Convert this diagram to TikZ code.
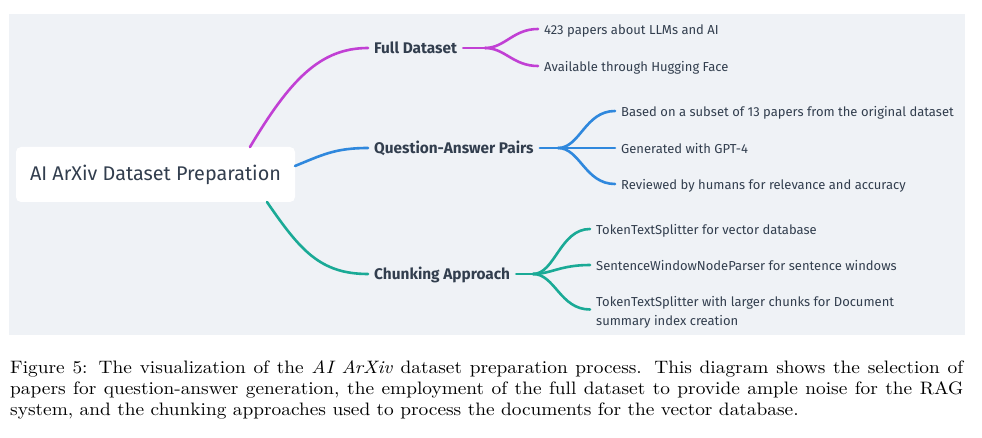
\documentclass[tikz,border=0pt]{standalone}
\usepackage{fontspec}
\newfontfamily\diafont{Fira Sans}
\newfontfamily\capfont{lmroman10-regular.otf}[ItalicFont=lmroman10-italic.otf, FakeStretch=1.075]
\usetikzlibrary{calc}
\definecolor{bgc}{RGB}{239,242,246}
\definecolor{txt}{RGB}{50,62,78}
\definecolor{cmag}{RGB}{193,64,212}
\definecolor{cblue}{RGB}{47,136,221}
\definecolor{cteal}{RGB}{26,170,150}
\begin{document}
\begin{tikzpicture}[x=1pt,y=-1pt,
  conn/.style={line width=2.6pt, line cap=round},
  rootbox/.style={fill=white, rounded corners=5pt, minimum width=279pt, minimum height=55pt, inner sep=0pt, font=\diafont\fontsize{19.8}{22}\selectfont, text=txt},
  mid/.style={anchor=base west, inner xsep=6pt, inner ysep=0pt, font=\diafont\bfseries\fontsize{15.4}{18}\selectfont, text=txt},
  leaf/.style={anchor=base west, inner xsep=6pt, inner ysep=0pt, align=left, font=\diafont\fontsize{13}{19}\selectfont, text=txt}]
\useasboundingbox (0,0) rectangle (982,438);
\fill[bgc] (9,14) rectangle (965,335);

% root
\node[rootbox] (root) at (155.5,174.5) {AI ArXiv Dataset Preparation};
\coordinate (r1) at (250,147);
\coordinate (r2) at (295,166);
\coordinate (r3) at (267,202);

% main branches (placed by baseline)
\node[mid] (fd) at (368,53.5) {Full Dataset};
\node[mid] (qa) at (368,153.5) {Question-Answer Pairs};
\node[mid] (ca) at (368,279.5) {Chunking Approach};
\coordinate (fdw) at ($(fd.base west)+(0,-5.5)$);
\coordinate (fde) at ($(fd.base east)+(0,-5.5)$);
\coordinate (qaw) at ($(qa.base west)+(0,-5.5)$);
\coordinate (qae) at ($(qa.base east)+(0,-5.5)$);
\coordinate (caw) at ($(ca.base west)+(0,-5.5)$);
\coordinate (cae) at ($(ca.base east)+(0,-5.5)$);

% leaves (placed by baseline)
\node[leaf] (f1) at (538,34.7) {423 papers about LLMs and AI};
\node[leaf] (f2) at (538,71.7) {Available through Hugging Face};
\node[leaf] (q1) at (615,116.7) {Based on a subset of 13 papers from the original dataset};
\node[leaf] (q2) at (615,153.7) {Generated with GPT-4};
\node[leaf] (q3) at (615,189.7) {Reviewed by humans for relevance and accuracy};
\node[leaf] (c1) at (590,234.7) {TokenTextSplitter for vector database};
\node[leaf] (c2) at (590,270.7) {SentenceWindowNodeParser for sentence windows};
\node[leaf] (c3) at (590,325) {TokenTextSplitter with larger chunks for Document\\summary index creation};
\coordinate (f1w) at ($(f1.base west)+(0,-5.7)$);
\coordinate (f2w) at ($(f2.base west)+(0,-5.7)$);
\coordinate (q1w) at ($(q1.base west)+(0,-5.7)$);
\coordinate (q2w) at ($(q2.base west)+(0,-5.7)$);
\coordinate (q3w) at ($(q3.base west)+(0,-5.7)$);
\coordinate (c1w) at ($(c1.base west)+(0,-5.7)$);
\coordinate (c2w) at ($(c2.base west)+(0,-5.7)$);
\coordinate (c3w) at ($(c3.base west)+(0,-15.5)$);

% junctions
\coordinate (fj) at (485,48);
\coordinate (qj) at (558,148);
\coordinate (cj) at (533,274);

% root connectors
\draw[conn,cmag] (r1) .. controls (290,80) and (320,48) .. (fdw);
\draw[conn,cblue] (r2) .. controls (322,155) and (335,148) .. (qaw);
\draw[conn,cteal] (r3) .. controls (300,250) and (320,274) .. (caw);

% child connectors
\draw[conn,cmag] (fde) -- (fj);
\draw[conn,cmag] (fj) .. controls +(20,0) and +(-25,0) .. (f1w);
\draw[conn,cmag] (fj) .. controls +(20,0) and +(-25,0) .. (f2w);

\draw[conn,cblue] (qae) -- (qj);
\draw[conn,cblue] (qj) .. controls +(22,0) and +(-30,0) .. (q1w);
\draw[conn,cblue] (qj) -- (q2w);
\draw[conn,cblue] (qj) .. controls +(22,0) and +(-30,0) .. (q3w);

\draw[conn,cteal] (cae) -- (cj);
\draw[conn,cteal] (cj) .. controls +(22,0) and +(-30,0) .. (c1w);
\draw[conn,cteal] (cj) .. controls +(18,0) and +(-30,0) .. (c2w);
\draw[conn,cteal] (cj) .. controls +(22,0) and +(-30,0) .. (c3w);

% caption
\node[anchor=north west, inner sep=0pt, align=left, font=\capfont\fontsize{18}{21.3}\selectfont] (cap) at (10,360)
 {\makebox[953pt][s]{Figure 5: The visualization of the \textit{AI ArXiv} dataset preparation process. This diagram shows the selection of}\\
  \makebox[953pt][s]{papers for question-answer generation, the employment of the full dataset to provide ample noise for the RAG}\\
  system, and the chunking approaches used to process the documents for the vector database.};
\end{tikzpicture}
\end{document}
